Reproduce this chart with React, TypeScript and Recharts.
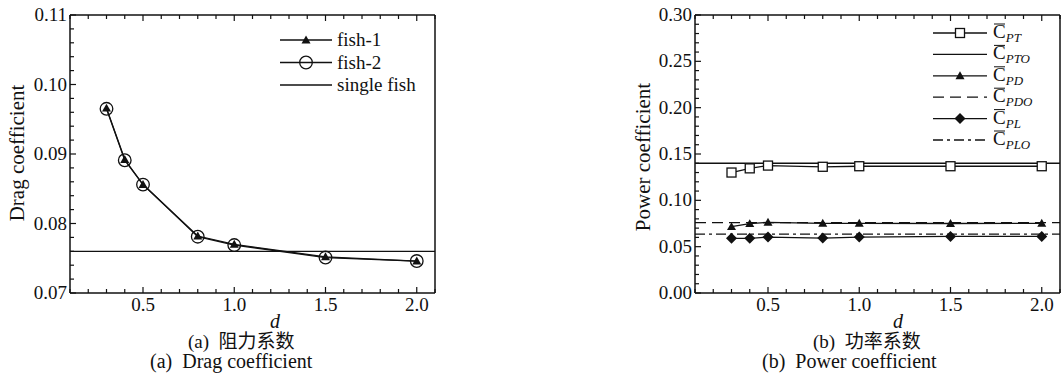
import React from 'react';
import { LineChart, Line, XAxis, YAxis, ReferenceLine, Legend } from 'recharts';

const dValues = [0.3, 0.4, 0.5, 0.8, 1.0, 1.5, 2.0];

// (a) drag coefficient
const fish1 = [0.0966, 0.0892, 0.0856, 0.0782, 0.077, 0.0752, 0.0746];
const fish2 = [0.0965, 0.0891, 0.0856, 0.0781, 0.0769, 0.0751, 0.0746];
const singleFish = 0.076;

// (b) power coefficient
const cpt = [0.13, 0.1345, 0.1375, 0.1362, 0.1368, 0.1368, 0.1368];
const cpto = 0.14;
const cpd = [0.0716, 0.0748, 0.0763, 0.0752, 0.0752, 0.075, 0.0752];
const cpdo = 0.076;
const cpl = [0.059, 0.059, 0.0603, 0.0593, 0.0603, 0.061, 0.061];
const cplo = 0.0635;

const xTicks = [0.1, 0.2, 0.3, 0.4, 0.5, 0.6, 0.7, 0.8, 0.9, 1.0, 1.1, 1.2, 1.3, 1.4, 1.5, 1.6, 1.7, 1.8, 1.9, 2.0, 2.1];
const xMajor = [0.5, 1.0, 1.5, 2.0];

const yTicksA = [0.07, 0.072, 0.074, 0.076, 0.078, 0.08, 0.082, 0.084, 0.086, 0.088, 0.09, 0.092, 0.094, 0.096, 0.098, 0.1, 0.102, 0.104, 0.106, 0.108, 0.11];
const yMajorA = [0.07, 0.08, 0.09, 0.1, 0.11];

const yTicksB = [0, 0.01, 0.02, 0.03, 0.04, 0.05, 0.06, 0.07, 0.08, 0.09, 0.1, 0.11, 0.12, 0.13, 0.14, 0.15, 0.16, 0.17, 0.18, 0.19, 0.2, 0.21, 0.22, 0.23, 0.24, 0.25, 0.26, 0.27, 0.28, 0.29, 0.3];
const yMajorB = [0, 0.05, 0.1, 0.15, 0.2, 0.25, 0.3];

const dataA = dValues.map((d, i) => ({ d, fish1: fish1[i], fish2: fish2[i] }));
const dataB = dValues.map((d, i) => ({ d, cpt: cpt[i], cpd: cpd[i], cpl: cpl[i] }));

const FONT = '"Liberation Serif", "Times New Roman", serif';
const CJK = '"Liberation Serif", "Noto Sans CJK SC", serif';
const INK = '#111';

const isIn = (v: number, list: number[]) => list.some((m) => Math.abs(m - v) < 1e-6);

const bottomTick = (props: any) => {
  const { x, y, payload } = props;
  const major = isIn(payload.value, xMajor);
  return (
    <g>
      <line x1={x} x2={x} y1={y} y2={y - (major ? 6 : 4)} stroke={INK} strokeWidth={1.2} />
      {major && (
        <text x={x} y={y + 18} textAnchor="middle" fontSize={19} fontFamily={FONT} fill={INK}>
          {payload.value.toFixed(1)}
        </text>
      )}
    </g>
  );
};

const topTick = (props: any) => {
  const { x, y, payload } = props;
  const major = isIn(payload.value, xMajor);
  return <line x1={x} x2={x} y1={y} y2={y + (major ? 6 : 4)} stroke={INK} strokeWidth={1.2} />;
};

const makeLeftTick = (majors: number[]) => (props: any) => {
  const { x, y, payload } = props;
  const major = isIn(payload.value, majors);
  return (
    <g>
      <line x1={x} x2={x + (major ? 6 : 4)} y1={y} y2={y} stroke={INK} strokeWidth={1.2} />
      {major && (
        <text x={x - 3} y={y + 6} textAnchor="end" fontSize={19} fontFamily={FONT} fill={INK}>
          {payload.value.toFixed(2)}
        </text>
      )}
    </g>
  );
};

const makeRightTick = (majors: number[]) => (props: any) => {
  const { x, y, payload } = props;
  const major = isIn(payload.value, majors);
  return <line x1={x} x2={x - (major ? 6 : 4)} y1={y} y2={y} stroke={INK} strokeWidth={1.2} />;
};

const Triangle = ({ cx, cy, s = 4.5 }: any) => (
  <polygon points={`${cx},${cy - s} ${cx + s},${cy + s * 0.75} ${cx - s},${cy + s * 0.75}`} fill={INK} />
);
const Circle = ({ cx, cy }: any) => <circle cx={cx} cy={cy} r={6.3} fill="none" stroke={INK} strokeWidth={1.3} />;
const Square = ({ cx, cy }: any) => (
  <rect x={cx - 4.5} y={cy - 4.5} width={9} height={9} fill="#fff" stroke={INK} strokeWidth={1.3} />
);
const Diamond = ({ cx, cy }: any) => (
  <polygon points={`${cx},${cy - 5.5} ${cx + 5.5},${cy} ${cx},${cy + 5.5} ${cx - 5.5},${cy}`} fill={INK} />
);

const dotOf = (Shape: any) => (p: any) => <Shape key={p.index} cx={p.cx} cy={p.cy} />;

const legendA = () => (
  <svg width={160} height={80} style={{ display: 'block', overflow: 'visible' }}>
    {[
      { label: 'fish-1', m: Triangle },
      { label: 'fish-2', m: Circle },
      { label: 'single fish', m: null },
    ].map((r, i) => {
      const y = 14 + i * 22.5;
      const M = r.m;
      return (
        <g key={r.label}>
          <line x1={0} x2={52} y1={y} y2={y} stroke={INK} strokeWidth={1.3} />
          {M && <M cx={26} cy={y} />}
          <text x={57} y={y + 6} fontSize={19} fontFamily={FONT} fill={INK}>{r.label}</text>
        </g>
      );
    })}
  </svg>
);

const legendB = () => (
  <svg width={128} height={150} style={{ display: 'block', overflow: 'visible' }}>
    {[
      { sub: 'PT', m: Square, dash: undefined },
      { sub: 'PTO', m: null, dash: undefined },
      { sub: 'PD', m: Triangle, dash: undefined },
      { sub: 'PDO', m: null, dash: '11 6' },
      { sub: 'PL', m: Diamond, dash: undefined },
      { sub: 'PLO', m: null, dash: '10 4 3 4' },
    ].map((r, i) => {
      const y = 14 + i * 21.4;
      const M = r.m;
      return (
        <g key={r.sub}>
          <line x1={0} x2={54} y1={y} y2={y} stroke={INK} strokeWidth={1.3} strokeDasharray={r.dash} />
          {M && <M cx={27} cy={y} />}
          <line x1={61} x2={72} y1={y - 9} y2={y - 9} stroke={INK} strokeWidth={1} />
          <text x={60} y={y + 5} fontSize={19} fontFamily={FONT} fill={INK}>
            C
            <tspan dy={4} fontSize={13} fontStyle="italic">{r.sub}</tspan>
          </text>
        </g>
      );
    })}
  </svg>
);

const abs = (left: number, top: number, extra: React.CSSProperties = {}): React.CSSProperties => ({
  position: 'absolute',
  left,
  top,
  whiteSpace: 'pre',
  fontFamily: CJK,
  color: INK,
  lineHeight: '18px',
  ...extra,
});

export default function App() {
  return (
    <div style={{ position: 'absolute', left: 0, top: 0, width: 1061, height: 374, background: '#fff', overflow: 'hidden' }}>
      <div style={{ position: 'absolute', left: 0, top: 0 }}>
        <LineChart width={460} height={374} data={dataA} margin={{ top: 14, right: 24, bottom: 51, left: 0 }}>
          <XAxis dataKey="d" type="number" domain={[0.1, 2.1]} ticks={xTicks} interval={0} tickLine={false} tickSize={0} tickMargin={0} height={30} tick={bottomTick} axisLine={{ stroke: INK, strokeWidth: 1.5 }} />
          <XAxis xAxisId="top" orientation="top" dataKey="d" type="number" domain={[0.1, 2.1]} ticks={xTicks} interval={0} tickLine={false} tickSize={0} tickMargin={0} height={1} tick={topTick} axisLine={{ stroke: INK, strokeWidth: 1.5 }} />
          <YAxis type="number" domain={[0.07, 0.11]} ticks={yTicksA} interval={0} tickLine={false} tickSize={0} tickMargin={0} width={70} tick={makeLeftTick(yMajorA)} axisLine={{ stroke: INK, strokeWidth: 1.5 }} />
          <YAxis yAxisId="right" orientation="right" type="number" domain={[0.07, 0.11]} ticks={yTicksA} interval={0} tickLine={false} tickSize={0} tickMargin={0} width={1} tick={makeRightTick(yMajorA)} axisLine={{ stroke: INK, strokeWidth: 1.5 }} />
          <ReferenceLine y={singleFish} stroke={INK} strokeWidth={1.3} />
          <Line dataKey="fish2" stroke={INK} strokeWidth={1.3} dot={dotOf(Circle)} isAnimationActive={false} />
          <Line dataKey="fish1" stroke={INK} strokeWidth={1.3} dot={dotOf(Triangle)} isAnimationActive={false} />
          <Legend layout="vertical" align="center" verticalAlign="middle" content={legendA} wrapperStyle={{ position: 'absolute', left: 280, top: 26, width: 160, height: 80 }} />
        </LineChart>
      </div>
      <div style={{ position: 'absolute', left: 540, top: 0 }}>
        <LineChart width={521} height={374} data={dataB} margin={{ top: 14, right: 0, bottom: 51, left: 85 }}>
          <XAxis dataKey="d" type="number" domain={[0.1, 2.1]} ticks={xTicks} interval={0} tickLine={false} tickSize={0} tickMargin={0} height={30} tick={bottomTick} axisLine={{ stroke: INK, strokeWidth: 1.5 }} />
          <XAxis xAxisId="top" orientation="top" dataKey="d" type="number" domain={[0.1, 2.1]} ticks={xTicks} interval={0} tickLine={false} tickSize={0} tickMargin={0} height={1} tick={topTick} axisLine={{ stroke: INK, strokeWidth: 1.5 }} />
          <YAxis type="number" domain={[0, 0.3]} ticks={yTicksB} interval={0} tickLine={false} tickSize={0} tickMargin={0} width={70} tick={makeLeftTick(yMajorB)} axisLine={{ stroke: INK, strokeWidth: 1.5 }} />
          <YAxis yAxisId="right" orientation="right" type="number" domain={[0, 0.3]} ticks={yTicksB} interval={0} tickLine={false} tickSize={0} tickMargin={0} width={1} tick={makeRightTick(yMajorB)} axisLine={{ stroke: INK, strokeWidth: 1.5 }} />
          <ReferenceLine y={cpto} stroke={INK} strokeWidth={1.3} />
          <ReferenceLine y={cpdo} stroke={INK} strokeWidth={1.3} strokeDasharray="11 6" />
          <ReferenceLine y={cplo} stroke={INK} strokeWidth={1.3} strokeDasharray="10 4 3 4" />
          <Line dataKey="cpt" stroke={INK} strokeWidth={1.3} dot={dotOf(Square)} isAnimationActive={false} />
          <Line dataKey="cpd" stroke={INK} strokeWidth={1.3} dot={dotOf(Triangle)} isAnimationActive={false} />
          <Line dataKey="cpl" stroke={INK} strokeWidth={1.3} dot={dotOf(Diamond)} isAnimationActive={false} />
          <Legend layout="vertical" align="center" verticalAlign="middle" content={legendB} wrapperStyle={{ position: 'absolute', left: 393, top: 19, width: 128, height: 150 }} />
        </LineChart>
      </div>

      <div style={abs(17, 153, { fontSize: 21, fontFamily: FONT, lineHeight: '22px', transform: 'translate(-50%, -50%) rotate(-90deg)' })}>Drag coefficient</div>
      <div style={abs(643, 157, { fontSize: 21, fontFamily: FONT, lineHeight: '22px', transform: 'translate(-50%, -50%) rotate(-90deg)' })}>Power coefficient</div>

      <div style={abs(270, 311, { fontSize: 20, fontStyle: 'italic', fontFamily: FONT, lineHeight: '20px' })}>d</div>
      <div style={abs(893, 311, { fontSize: 20, fontStyle: 'italic', fontFamily: FONT, lineHeight: '20px' })}>d</div>

      <div style={abs(188, 333, { fontSize: 19 })}>{'(a)  阻力系数'}</div>
      <div style={abs(150, 352, { fontSize: 20 })}>{'(a)  Drag coefficient'}</div>
      <div style={abs(813, 333, { fontSize: 19 })}>{'(b)  功率系数'}</div>
      <div style={abs(762, 352, { fontSize: 20 })}>{'(b)  Power coefficient'}</div>
    </div>
  );
}
